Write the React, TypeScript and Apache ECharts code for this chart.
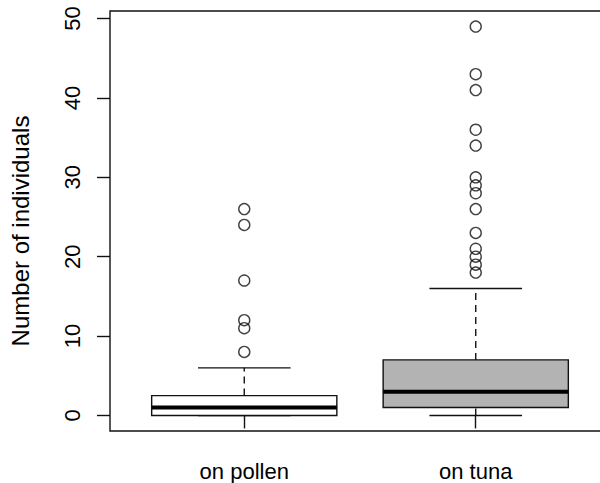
import React, { useEffect, useRef } from "react";
import * as echarts from "echarts";

const categories = ["on pollen", "on tuna"];
const categoryPositions = [1, 2];
const lowerWhiskers = [0, 0];
const lowerQuartiles = [0, 1];
const medians = [1, 3];
const upperQuartiles = [2.5, 7];
const upperWhiskers = [6, 16];
const boxFills = ["#ffffff", "#b3b3b3"];
const pollenOutliers = [8, 11, 12, 17, 24, 26];
const tunaOutliers = [18, 19, 20, 21, 23, 26, 28, 29, 30, 34, 36, 41, 43, 49];
const yTicks = [0, 10, 20, 30, 40, 50];
const yTitle = "Number of individuals";

const FONT = "'Liberation Sans', Arial, Helvetica, sans-serif";

export default function App() {
  const ref = useRef<HTMLDivElement>(null);
  useEffect(() => {
    if (!ref.current) return;
    const chart = echarts.init(ref.current, undefined, { renderer: "svg" });

    const boxData = categoryPositions.map((x, i) => [
      x,
      lowerWhiskers[i],
      lowerQuartiles[i],
      medians[i],
      upperQuartiles[i],
      upperWhiskers[i],
      i,
    ]);
    const outlierData = [
      ...pollenOutliers.map((v) => [categoryPositions[0], v]),
      ...tunaOutliers.map((v) => [categoryPositions[1], v]),
    ];

    const lineColor = "#111";

    chart.setOption({
      animation: false,
      backgroundColor: "#fff",
      textStyle: { fontFamily: FONT },
      grid: {
        left: 110,
        top: 11,
        width: 500,
        height: 420,
        show: true,
        borderColor: lineColor,
        borderWidth: 1.4,
        backgroundColor: "transparent",
        containLabel: false,
        outerBoundsMode: "none",
      },
      xAxis: {
        type: "value",
        min: 0.42,
        max: 2.58,
        splitLine: { show: false },
        axisLine: { show: false },
        axisTick: {
          show: true,
          customValues: categoryPositions,
          length: 13,
          inside: false,
          lineStyle: { color: lineColor, width: 1.4 },
        },
        axisLabel: {
          show: true,
          customValues: categoryPositions,
          formatter: (v: number) => categories[Math.round(v) - 1] ?? "",
          fontSize: 22,
          color: "#000",
          margin: 29,
          fontFamily: FONT,
        },
      },
      yAxis: {
        type: "value",
        min: -1.96,
        max: 50.96,
        splitLine: { show: false },
        axisLine: { show: false },
        axisTick: {
          show: true,
          customValues: yTicks,
          length: 13,
          inside: false,
          lineStyle: { color: lineColor, width: 1.4 },
        },
        axisLabel: {
          show: true,
          customValues: yTicks,
          rotate: 90,
          fontSize: 22,
          color: "#000",
          margin: 27,
          fontFamily: FONT,
        },
      },
      graphic: [
        {
          type: "text",
          x: 20,
          y: 231,
          rotation: Math.PI / 2,
          style: {
            text: yTitle,
            fontSize: 24,
            fontFamily: FONT,
            fill: "#000",
            align: "center",
            verticalAlign: "middle",
          },
        },
      ],
      series: [
        {
          type: "custom",
          clip: false,
          data: boxData,
          encode: { x: 0, y: [1, 2, 3, 4, 5] },
          renderItem: (params: any, api: any) => {
            const x = api.value(0);
            const low = api.coord([x, api.value(1)]);
            const q1 = api.coord([x, api.value(2)]);
            const med = api.coord([x, api.value(3)]);
            const q3 = api.coord([x, api.value(4)]);
            const high = api.coord([x, api.value(5)]);
            const idx = api.value(6);
            const halfW = api.size([0.8, 0])[0] / 2;
            const halfS = halfW / 2;
            const cx = low[0];
            const solid = { stroke: lineColor, lineWidth: 1.4, fill: "none" };
            const dashed = { stroke: lineColor, lineWidth: 1.4, lineDash: [7, 5], fill: "none" };
            return {
              type: "group",
              children: [
                {
                  type: "line",
                  shape: { x1: cx, y1: q3[1], x2: cx, y2: high[1] },
                  style: dashed,
                },
                {
                  type: "line",
                  shape: { x1: cx, y1: low[1], x2: cx, y2: q1[1] },
                  style: dashed,
                },
                {
                  type: "line",
                  shape: { x1: cx - halfS, y1: high[1], x2: cx + halfS, y2: high[1] },
                  style: solid,
                },
                {
                  type: "line",
                  shape: { x1: cx - halfS, y1: low[1], x2: cx + halfS, y2: low[1] },
                  style: solid,
                },
                {
                  type: "rect",
                  shape: { x: cx - halfW, y: q3[1], width: halfW * 2, height: q1[1] - q3[1] },
                  style: { fill: boxFills[idx], stroke: lineColor, lineWidth: 1.4 },
                },
                {
                  type: "line",
                  shape: { x1: cx - halfW, y1: med[1], x2: cx + halfW, y2: med[1] },
                  style: { stroke: "#000", lineWidth: 4 },
                },
              ],
            };
          },
        },
        {
          type: "scatter",
          data: outlierData,
          symbol: "circle",
          symbolSize: 11,
          itemStyle: {
            color: "rgba(0,0,0,0)",
            borderColor: lineColor,
            borderWidth: 1.4,
          },
        },
      ],
    });

    return () => chart.dispose();
  }, []);

  return (
    <div
      ref={ref}
      style={{ position: "fixed", left: 0, top: 0, width: 600, height: 483 }}
    />
  );
}
